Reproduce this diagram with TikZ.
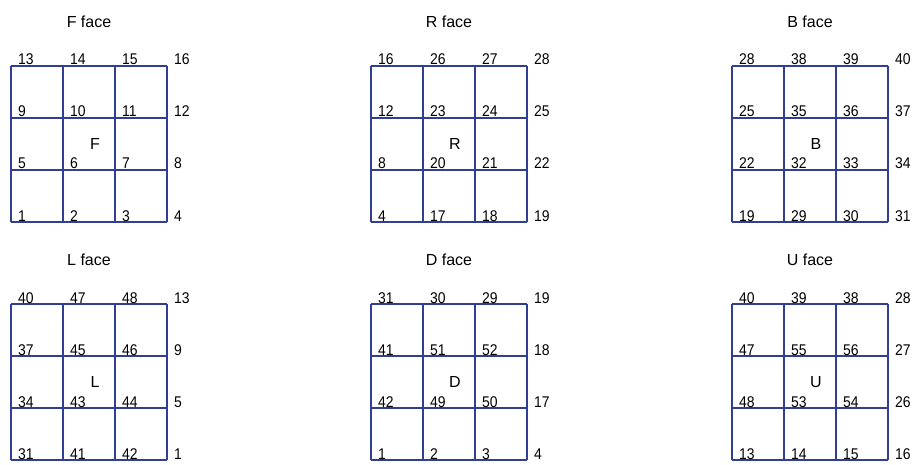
\documentclass[tikz,border=0pt]{standalone}
\usepackage{fontspec}
\setmainfont{Liberation Sans}
\setsansfont{Liberation Sans}
\newfontfamily\numfont[FakeStretch=0.9]{Liberation Sans}
\usetikzlibrary{positioning}
\definecolor{faceblue}{RGB}{50,62,150}

\begin{document}
\begin{tikzpicture}[
  x=1pt, y=-1pt,
  font=\sffamily,
  gridline/.style={draw=faceblue, line width=1.3pt},
  facetitle/.style={font=\sffamily\fontsize{16}{16}\selectfont, inner sep=0pt},
  facename/.style={font=\sffamily\fontsize{16}{16}\selectfont, inner sep=0pt},
  cornerno/.style={font=\numfont\fontsize{15.5}{15.5}\selectfont, inner sep=0pt, anchor=base west}
]
\useasboundingbox (0,0) rectangle (912,465);

%--------------------------------------
% Six faces: name / left / top / corner numbers (row by row, top first)
%--------------------------------------
\foreach \fname/\fx/\fy/\labs in {
  F/11/66/{13,14,15,16,9,10,11,12,5,6,7,8,1,2,3,4},
  R/371/66/{16,26,27,28,12,23,24,25,8,20,21,22,4,17,18,19},
  B/732/66/{28,38,39,40,25,35,36,37,22,32,33,34,19,29,30,31},
  L/11/304/{40,47,48,13,37,45,46,9,34,43,44,5,31,41,42,1},
  D/371/304/{31,30,29,19,41,51,52,18,42,49,50,17,1,2,3,4},
  U/732/304/{40,39,38,28,47,55,56,27,48,53,54,26,13,14,15,16}}
{
  % grid lines
  \foreach \i in {0,...,3} {
    \draw[gridline] (\fx+52*\i,\fy) -- (\fx+52*\i,\fy+156);
    \draw[gridline] (\fx,\fy+52*\i) -- (\fx+156,\fy+52*\i);
  }
  % title and centre letter
  \node[facetitle] (\fname-title) at (\fx+78,\fy-44) {\fname\ face};
  \node[facename] (\fname-mid) at (\fx+84,\fy+78) {\fname};
  % corner numbers
  \foreach \n [count=\k from 0] in \labs {
    \pgfmathtruncatemacro{\row}{int(\k/4)}
    \pgfmathtruncatemacro{\col}{mod(\k,4)}
    \node[cornerno] (\fname-\k) at (\fx+52*\col+7,\fy+52*\row-1) {\n};
  }
}

\end{tikzpicture}
\end{document}
